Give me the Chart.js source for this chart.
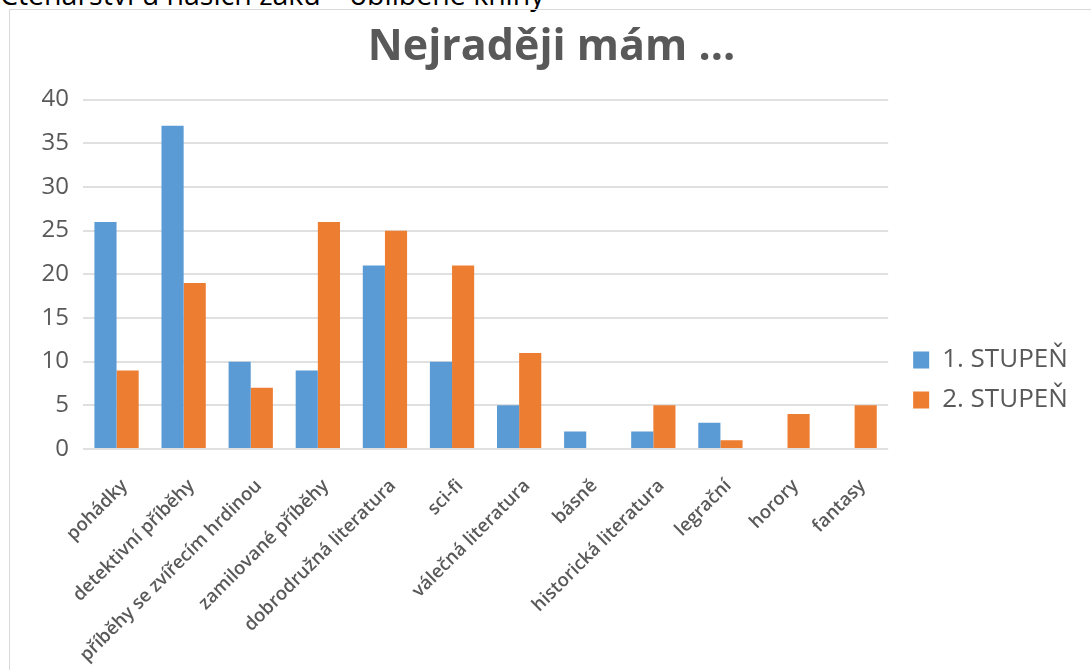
<!DOCTYPE html>
<html>
<head>
<meta charset="utf-8">
<script src="https://cdn.jsdelivr.net/npm/chart.js@4/dist/chart.umd.min.js"></script>
<style>
  html, body { margin: 0; padding: 0; background: #fff; overflow: hidden; width: 1091px; height: 670px; }
  #caption { position: absolute; left: 0; top: -21px; font-family: "Open Sans", sans-serif; font-size: 28.5px; color: #000; white-space: nowrap; line-height: 30px; }
  #frame { position: absolute; left: 9px; top: 9px; width: 1110px; height: 760px; border: 1px solid #d9d9d9; }
  #wrap { position: absolute; left: 10px; top: 10px; width: 1081px; height: 740px; }
</style>
</head>
<body>
<div id="caption">Čtenářství u našich žáků – oblíbené knihy</div>
<div id="frame"></div>
<div id="wrap"><canvas id="c"></canvas></div>
<script>
const categories = ["pohádky", "detektivní příběhy", "příběhy se zvířecím hrdinou", "zamilované příběhy", "dobrodružná literatura", "sci-fi", "válečná literatura", "básně", "historická literatura", "legrační", "horory", "fantasy"];
const stupen1 = [26, 37, 10, 9, 21, 10, 5, 2, 2, 3, 0, 0];
const stupen2 = [9, 19, 7, 26, 25, 21, 11, 0, 5, 1, 4, 5];
const seriesNames = ["1. STUPEŇ", "2. STUPEŇ"];
const yTicks = [0, 5, 10, 15, 20, 25, 30, 35, 40];
const chartTitle = "Nejraději mám ...";

const FONT = "'Open Sans', sans-serif";
const GREY = "#595959";

new Chart(document.getElementById('c'), {
  type: 'bar',
  data: {
    labels: categories,
    datasets: [
      { label: seriesNames[0], data: stupen1, backgroundColor: '#5B9BD5', borderWidth: 0, categoryPercentage: 0.66, barPercentage: 1.0 },
      { label: seriesNames[1], data: stupen2, backgroundColor: '#ED7D31', borderWidth: 0, categoryPercentage: 0.66, barPercentage: 1.0 }
    ]
  },
  options: {
    responsive: true,
    maintainAspectRatio: false,
    animation: false,
    layout: { padding: { left: 20, right: 18, top: 0, bottom: 0 } },
    plugins: {
      title: {
        display: true,
        text: chartTitle,
        color: GREY,
        font: { family: FONT, size: 43, weight: 'bold', lineHeight: 1.2 },
        padding: { top: 12, bottom: 26 }
      },
      legend: {
        display: true,
        position: 'right',
        labels: {
          boxWidth: 16,
          boxHeight: 17,
          padding: 14,
          color: GREY,
          font: { family: FONT, size: 26 }
        }
      },
      tooltip: { enabled: false }
    },
    scales: {
      x: {
        grid: { display: false },
        border: { display: false },
        ticks: {
          color: GREY,
          font: { family: FONT, size: 18.5, weight: '600' },
          minRotation: 45,
          maxRotation: 45,
          autoSkip: false,
          padding: 18,
          labelOffset: 8
        },
        afterFit: (s) => { s.height = 301; }
      },
      y: {
        min: 0,
        max: 40,
        afterBuildTicks: (s) => { s.ticks = yTicks.map(v => ({ value: v })); },
        grid: { color: '#e0e0e0', lineWidth: 2, drawTicks: false },
        border: { display: false },
        ticks: {
          color: GREY,
          font: { family: FONT, size: 24 },
          padding: 14
        },
        afterFit: (s) => { s.width = 53; }
      },
      spacer: {
        position: 'right',
        display: true,
        min: 0,
        max: 1,
        grid: { display: false },
        border: { display: false },
        ticks: { display: false },
        afterFit: (s) => { s.width = 11; }
      }
    }
  }
});
</script>
</body>
</html>
